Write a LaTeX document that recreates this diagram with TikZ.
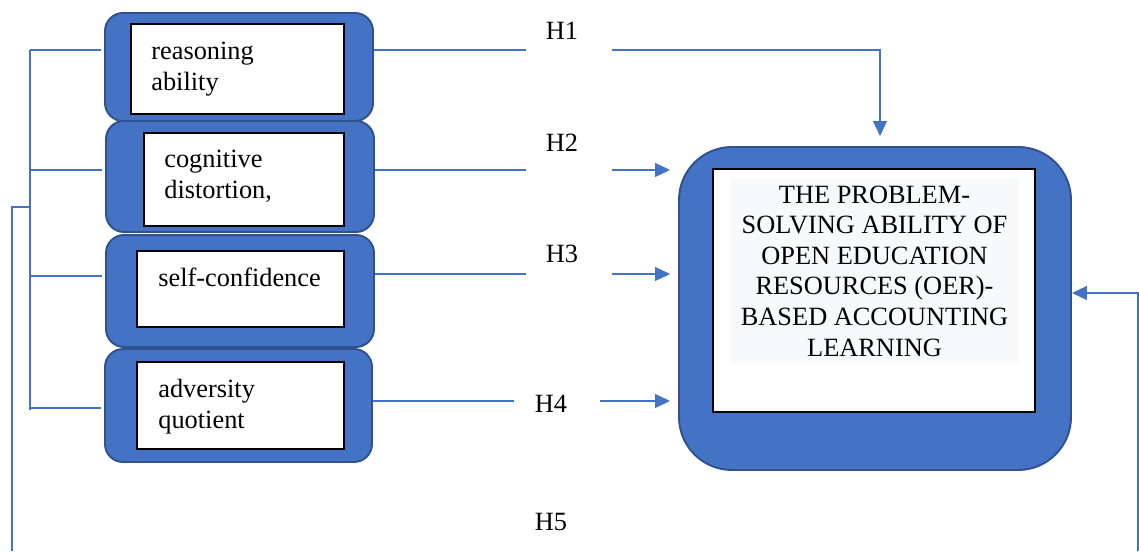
\documentclass[tikz,border=0pt]{standalone}
\usepackage{fontspec}
\setmainfont{Liberation Serif}
\usetikzlibrary{positioning, arrows.meta}

\definecolor{boxblue}{RGB}{68,114,196}
\definecolor{boxedge}{RGB}{47,82,143}
\definecolor{textbg}{RGB}{248,249,250}

\begin{document}
\begin{tikzpicture}[
  font=\fontsize{15pt}{17.4pt}\selectfont,
  varshell/.style={rectangle, rounded corners=0.36cm, fill=boxblue, draw=boxedge, line width=1.1pt, minimum width=5.36cm},
  varcard/.style={rectangle, fill=white, draw=black, line width=0.8pt},
  varname/.style={anchor=north west, inner sep=0pt, align=left},
  hyp/.style={inner sep=0pt},
  hypgap/.style={inner sep=0pt, minimum width=1.72cm, minimum height=0pt},
  hyplink/.style={draw=boxblue, line width=0.6pt},
  hyparrow/.style={hyplink, -{Triangle[length=0.3cm, width=0.28cm]}, shorten >=0.16cm},
  hyptap/.style={hyplink, shorten >=0.06cm}
]

  \useasboundingbox (0,0) rectangle (22.78,11.02);

  % Define nodes
  \node[varshell, minimum height=2.16cm] (reason) at (4.78,9.68) {};
  \node[varcard, minimum width=4.26cm, minimum height=1.80cm] (reasonin) at (4.75,9.64) {};
  \node[varname] (reasontxt) at (3.02,10.18) {reasoning\\ability};

  \node[varshell, minimum height=2.22cm] (cogn) at (4.80,7.49) {};
  \node[varcard, minimum width=4.00cm, minimum height=1.86cm] (cognin) at (4.88,7.43) {};
  \node[varname] (cogntxt) at (3.28,8.02) {cognitive\\distortion,};

  \node[varshell, minimum height=2.24cm] (conf) at (4.80,5.20) {};
  \node[varcard, minimum width=4.14cm, minimum height=1.52cm] (confin) at (4.81,5.24) {};
  \node[varname] (conftxt) at (3.16,5.66) {self-confidence};

  \node[varshell, minimum width=5.34cm, minimum height=2.26cm] (adv) at (4.77,2.91) {};
  \node[varcard, minimum width=4.14cm, minimum height=1.74cm] (advin) at (4.81,2.91) {};
  \node[varname] (advtxt) at (3.16,3.44) {adversity\\quotient};

  \node[varshell, rounded corners=1.06cm, minimum width=7.84cm, minimum height=6.46cm] (outcome) at (17.50,4.85) {};
  \node[varcard, minimum width=6.44cm, minimum height=4.86cm] (outcomein) at (17.48,5.21) {};
  \node[fill=textbg, inner sep=0pt, minimum width=5.78cm, minimum height=3.68cm, align=center] (outcometxt) at (17.49,5.60)
    {THE PROBLEM-\\SOLVING ABILITY OF\\OPEN EDUCATION\\RESOURCES (OER)-\\BASED ACCOUNTING\\LEARNING};

  % Hypothesis labels and the breaks they sit in
  \node[hypgap] (h1gap) at (11.38,10.02) {};
  \node[hypgap] (h2gap) at (11.38,7.62) {};
  \node[hypgap] (h3gap) at (11.38,5.54) {};
  \node[hypgap] (h4gap) at (11.14,3.00) {};

  \node[hyp] (h1) at (11.24,10.40) {H1};
  \node[hyp] (h2) at (11.24,8.16) {H2};
  \node[hyp] (h3) at (11.24,5.94) {H3};
  \node[hyp] (h4) at (11.02,2.94) {H4};
  \node[hyp] (h5) at (11.02,0.58) {H5};

  % Connect the nodes
  \draw[hyplink] (reason.east |- h1gap) -- (h1gap.west);
  \draw[hyparrow, shorten >=0.2cm] (h1gap.east) -| ([xshift=0.1cm]outcome.north);
  \draw[hyplink] (cogn.east |- h2gap) -- (h2gap.west);
  \draw[hyparrow] (h2gap.east) -- (outcome.west |- h2gap);
  \draw[hyplink] (conf.east |- h3gap) -- (h3gap.west);
  \draw[hyparrow] (h3gap.east) -- (outcome.west |- h3gap);
  \draw[hyplink] (adv.east |- h4gap) -- (h4gap.west);
  \draw[hyparrow] (h4gap.east) -- (outcome.west |- h4gap);

  % Joint line on the left (H5)
  \coordinate (bus1) at (0.60,10.02);
  \coordinate (bus2) at (0.60,7.62);
  \coordinate (bus3) at (0.60,5.50);
  \coordinate (bus4) at (0.60,2.86);
  \coordinate (bus5) at (0.60,6.88);
  \draw[hyplink] (bus1) -- ([yshift=-0.04cm]bus4);
  \draw[hyptap] (bus1) -- (reason.west |- bus1);
  \draw[hyptap] (bus2) -- (cogn.west |- bus2);
  \draw[hyptap] (bus3) -- (conf.west |- bus3);
  \draw[hyptap] (bus4) -- (adv.west |- bus4);

  \coordinate (loopL) at (0.24,0);
  \coordinate (loopR) at (22.76,0);
  \draw[hyplink] (bus5) -| (loopL);
  \draw[hyparrow, shorten >=0pt] (loopR) |- ([yshift=0.31cm]outcome.east);

\end{tikzpicture}
\end{document}
